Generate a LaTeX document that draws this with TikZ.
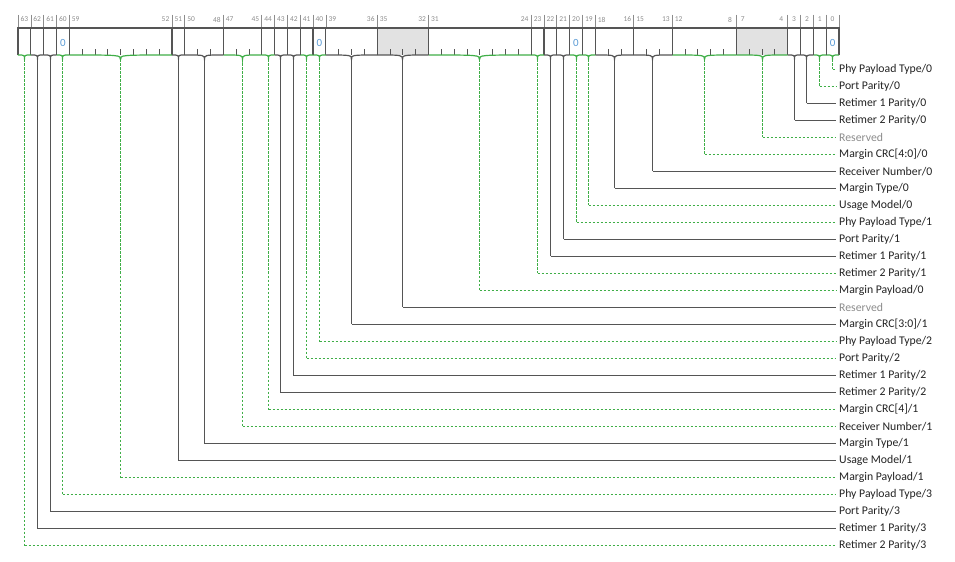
\documentclass[tikz,border=0pt]{standalone}
\usepackage{fontspec}
\setmainfont{Carlito}
\usepackage{tikz}
\usetikzlibrary{calc}
\definecolor{bfGreen}{HTML}{3FAE47}
\definecolor{bfLine}{HTML}{555555}
\definecolor{bfText}{HTML}{222222}
\definecolor{bfMute}{HTML}{8C8C8C}
\definecolor{bfBlue}{HTML}{5B9BD5}
\definecolor{bfFill}{HTML}{E2E2E2}
\newcommand{\bw}{12.828}

\begin{document}
\begin{tikzpicture}[
  x=1bp, y=-1bp,
  bitnum/.style={font=\fontsize{7.5}{8}\selectfont, text=bfMute, inner sep=0pt},
  fieldlbl/.style={font=\fontsize{11.8}{14}\selectfont, text=bfText, anchor=west,
                   inner xsep=3bp, inner ysep=0pt},
  mutedlbl/.style={fieldlbl, text=bfMute},
  greenlink/.style={draw=bfGreen, dash pattern=on 2.5bp off 1.5bp, line width=1.2bp},
  graylink/.style={draw=bfLine, line width=1.2bp},
  cellline/.style={bfLine, line width=1.2bp},
  valtext/.style={font=\fontsize{11}{12}\selectfont, text=bfBlue, inner sep=0pt},
]
  \useasboundingbox (0,0) rectangle (955,562);

  % reserved fields
  \foreach \msb/\lsb in {7/4, 35/32}
    \fill[bfFill] ({18+(63-\msb)*\bw},28) rectangle ({18+(64-\lsb)*\bw},55);

  % fields, braces, links and labels
  \foreach \msb/\lsb/\fname/\lk/\lb [count=\k from 0] in {
      0/0/{Phy Payload Type/0}/greenlink/fieldlbl,
      1/1/{Port Parity/0}/greenlink/fieldlbl,
      2/2/{Retimer 1 Parity/0}/graylink/fieldlbl,
      3/3/{Retimer 2 Parity/0}/graylink/fieldlbl,
      7/4/{Reserved}/greenlink/mutedlbl,
      12/8/{Margin CRC[4:0]/0}/greenlink/fieldlbl,
      15/13/{Receiver Number/0}/graylink/fieldlbl,
      18/16/{Margin Type/0}/graylink/fieldlbl,
      19/19/{Usage Model/0}/greenlink/fieldlbl,
      20/20/{Phy Payload Type/1}/greenlink/fieldlbl,
      21/21/{Port Parity/1}/graylink/fieldlbl,
      22/22/{Retimer 1 Parity/1}/graylink/fieldlbl,
      23/23/{Retimer 2 Parity/1}/greenlink/fieldlbl,
      31/24/{Margin Payload/0}/greenlink/fieldlbl,
      35/32/{Reserved}/graylink/mutedlbl,
      39/36/{Margin CRC[3:0]/1}/graylink/fieldlbl,
      40/40/{Phy Payload Type/2}/greenlink/fieldlbl,
      41/41/{Port Parity/2}/greenlink/fieldlbl,
      42/42/{Retimer 1 Parity/2}/graylink/fieldlbl,
      43/43/{Retimer 2 Parity/2}/graylink/fieldlbl,
      44/44/{Margin CRC[4]/1}/greenlink/fieldlbl,
      47/45/{Receiver Number/1}/greenlink/fieldlbl,
      50/48/{Margin Type/1}/graylink/fieldlbl,
      51/51/{Usage Model/1}/graylink/fieldlbl,
      59/52/{Margin Payload/1}/greenlink/fieldlbl,
      60/60/{Phy Payload Type/3}/greenlink/fieldlbl,
      61/61/{Port Parity/3}/graylink/fieldlbl,
      62/62/{Retimer 1 Parity/3}/graylink/fieldlbl,
      63/63/{Retimer 2 Parity/3}/greenlink/fieldlbl} {
    \pgfmathsetmacro\xl{18+(63-\msb)*\bw}
    \pgfmathsetmacro\xr{18+(64-\lsb)*\bw}
    \pgfmathsetmacro\xc{floor((\xl+\xr)/2)+0.5}
    \pgfmathsetmacro\yl{69.5+17*\k}
    \coordinate (tip\k) at (\xc,59.5);
    \coordinate (bend\k) at (\xc,\yl);
    \node[\lb] (lbl\k) at (836,\yl) {\fname};
    % cell outline and boundary ticks
    \draw[bfMute, line width=0.6bp] (\xl,15) -- (\xl,28) (\xr,15) -- (\xr,28);
    \draw[cellline] (\xl,55) -- (\xl,28) -- (\xr,28) -- (\xr,55);
    \node[bitnum] (msb\k) at ({\xl+\bw/2},19.5) {\msb};
    \ifnum\msb>\lsb
      \node[bitnum] (lsb\k) at ({\xr-\bw/2},19.5) {\lsb};
      \pgfmathtruncatemacro\nfirst{\lsb+1}
      \foreach \b in {\nfirst,...,\msb}
        \draw[bfLine, line width=0.8bp] ({18+(64-\b)*\bw},55) -- ++(0,-6);
    \fi
    % brace and link
    \draw[\lk, solid] (\xl,55) .. controls (\xc,55) .. (tip\k)
                      .. controls (\xc,55) .. (\xr,55);
    \draw[\lk] (tip\k) -- (bend\k);
    \draw[\lk] (bend\k) -- (lbl\k.west);
  }

  % top edge
  \draw[bfLine, line width=1.6bp] (18,28) -- (839.0,28);

  % fixed values
  \foreach \b in {0,20,40,60}
    \node[valtext] (val\b) at ({18+(63.5-\b)*\bw},43) {0};
\end{tikzpicture}
\end{document}
